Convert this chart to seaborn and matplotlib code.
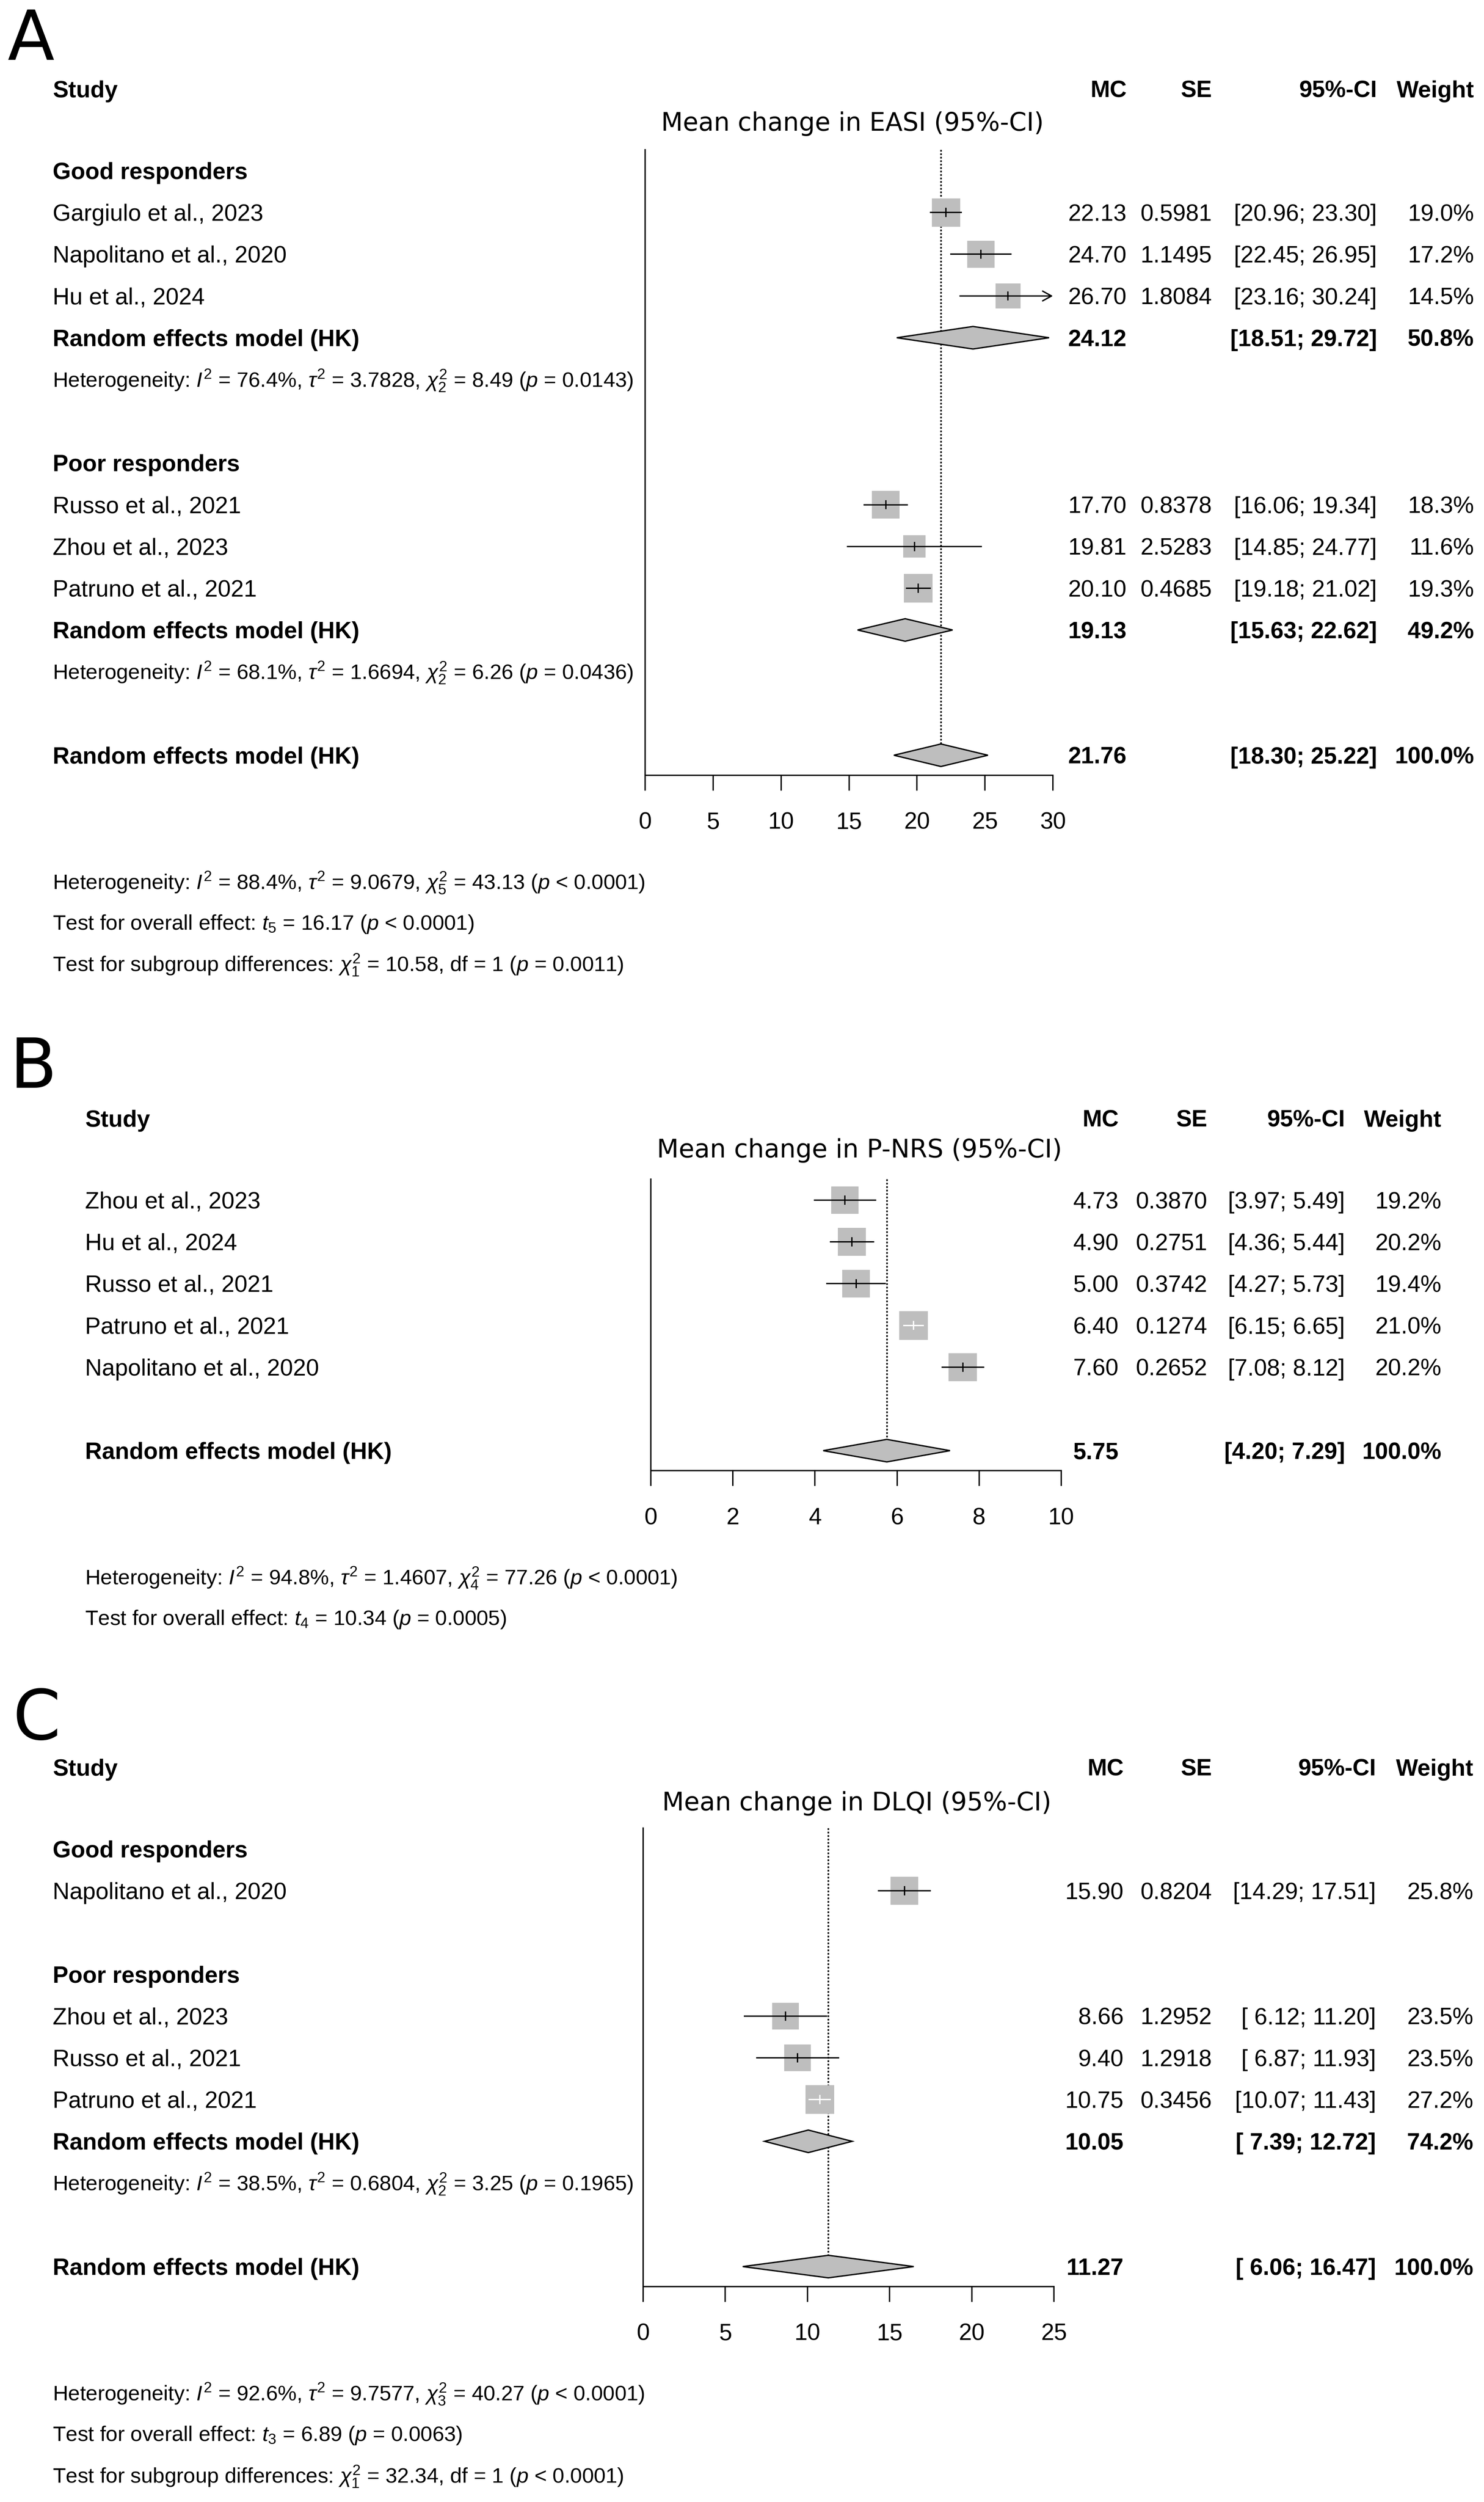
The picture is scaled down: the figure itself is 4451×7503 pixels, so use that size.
import numpy as np
import pandas as pd
import matplotlib
matplotlib.use("Agg")
import matplotlib.pyplot as plt
import seaborn as sns
from matplotlib.transforms import blended_transform_factory

# ======================= DATA =======================
# ---- Panel A : EASI ----
a_study = ["Gargiulo et al., 2023", "Napolitano et al., 2020", "Hu et al., 2024",
           "Russo et al., 2021", "Zhou et al., 2023", "Patruno et al., 2021"]
a_group = ["Good responders", "Good responders", "Good responders",
           "Poor responders", "Poor responders", "Poor responders"]
a_mc = [22.13, 24.70, 26.70, 17.70, 19.81, 20.10]
a_se = [0.5981, 1.1495, 1.8084, 0.8378, 2.5283, 0.4685]
a_lo = [20.96, 22.45, 23.16, 16.06, 14.85, 19.18]
a_hi = [23.30, 26.95, 30.24, 19.34, 24.77, 21.02]
a_w = [19.0, 17.2, 14.5, 18.3, 11.6, 19.3]
a_sub_group = ["Good responders", "Poor responders"]
a_sub_mc = [24.12, 19.13]
a_sub_lo = [18.51, 15.63]
a_sub_hi = [29.72, 22.62]
a_sub_w = [50.8, 49.2]
a_sub_het = [r"Heterogeneity: $I^2$ = 76.4%, $\tau^2$ = 3.7828, $\chi^2_2$ = 8.49 ($p$ = 0.0143)",
             r"Heterogeneity: $I^2$ = 68.1%, $\tau^2$ = 1.6694, $\chi^2_2$ = 6.26 ($p$ = 0.0436)"]
a_all_mc, a_all_lo, a_all_hi, a_all_w = 21.76, 18.30, 25.22, 100.0
a_ticks = [0, 5, 10, 15, 20, 25, 30]
a_title = "Mean change in EASI (95%-CI)"
a_notes = [r"Heterogeneity: $I^2$ = 88.4%, $\tau^2$ = 9.0679, $\chi^2_5$ = 43.13 ($p$ < 0.0001)",
           r"Test for overall effect: $t_5$ = 16.17 ($p$ < 0.0001)",
           r"Test for subgroup differences: $\chi^2_1$ = 10.58, df = 1 ($p$ = 0.0011)"]

# ---- Panel B : P-NRS ----
b_study = ["Zhou et al., 2023", "Hu et al., 2024", "Russo et al., 2021",
           "Patruno et al., 2021", "Napolitano et al., 2020"]
b_group = [None, None, None, None, None]
b_mc = [4.73, 4.90, 5.00, 6.40, 7.60]
b_se = [0.3870, 0.2751, 0.3742, 0.1274, 0.2652]
b_lo = [3.97, 4.36, 4.27, 6.15, 7.08]
b_hi = [5.49, 5.44, 5.73, 6.65, 8.12]
b_w = [19.2, 20.2, 19.4, 21.0, 20.2]
b_all_mc, b_all_lo, b_all_hi, b_all_w = 5.75, 4.20, 7.29, 100.0
b_ticks = [0, 2, 4, 6, 8, 10]
b_title = "Mean change in P-NRS (95%-CI)"
b_notes = [r"Heterogeneity: $I^2$ = 94.8%, $\tau^2$ = 1.4607, $\chi^2_4$ = 77.26 ($p$ < 0.0001)",
           r"Test for overall effect: $t_4$ = 10.34 ($p$ = 0.0005)"]

# ---- Panel C : DLQI ----
c_study = ["Napolitano et al., 2020", "Zhou et al., 2023", "Russo et al., 2021",
           "Patruno et al., 2021"]
c_group = ["Good responders", "Poor responders", "Poor responders", "Poor responders"]
c_mc = [15.90, 8.66, 9.40, 10.75]
c_se = [0.8204, 1.2952, 1.2918, 0.3456]
c_lo = [14.29, 6.12, 6.87, 10.07]
c_hi = [17.51, 11.20, 11.93, 11.43]
c_w = [25.8, 23.5, 23.5, 27.2]
c_sub_group = ["Poor responders"]
c_sub_mc = [10.05]
c_sub_lo = [7.39]
c_sub_hi = [12.72]
c_sub_w = [74.2]
c_sub_het = [r"Heterogeneity: $I^2$ = 38.5%, $\tau^2$ = 0.6804, $\chi^2_2$ = 3.25 ($p$ = 0.1965)"]
c_all_mc, c_all_lo, c_all_hi, c_all_w = 11.27, 6.06, 16.47, 100.0
c_ticks = [0, 5, 10, 15, 20, 25]
c_title = "Mean change in DLQI (95%-CI)"
c_notes = [r"Heterogeneity: $I^2$ = 92.6%, $\tau^2$ = 9.7577, $\chi^2_3$ = 40.27 ($p$ < 0.0001)",
           r"Test for overall effect: $t_3$ = 6.89 ($p$ = 0.0063)",
           r"Test for subgroup differences: $\chi^2_1$ = 32.34, df = 1 ($p$ < 0.0001)"]

col_headers = ["MC", "SE", "95%-CI", "Weight"]
summary_label = "Random effects model (HK)"

# ======================= STYLE / LAYOUT =======================
sns.set_theme(style="white")
plt.rcParams["font.family"] = ["Liberation Sans", "DejaVu Sans"]
plt.rcParams["mathtext.fontset"] = "custom"
plt.rcParams["mathtext.rm"] = "Liberation Sans"
plt.rcParams["mathtext.it"] = "Liberation Sans:italic"
plt.rcParams["mathtext.bf"] = "Liberation Sans:bold"

W, H = 4451, 7503
fig = plt.figure(figsize=(W / 100, H / 100), dpi=100)
fig.patch.set_facecolor("white")

SP = 125.2          # px per row
FS = 50.5           # main font size
FS_HET = 45.7
LW = 2.9
BOX = "#BEBEBE"
BOX_MAX_PX = 86
DIAM_H = 0.27
TITLE_FONT = ["DejaVu Sans"]

layouts = {
    "A": dict(row0=512, xl=1935, xr=3158, study_x=158, cols=[3379, 3635, 4130, 4421],
              title_cx=2557, title_row=-1.16, title_w=1151, letter=(22, 180)),
    "B": dict(row0=3599, xl=1952, xr=3183, study_x=255, cols=[3355, 3621, 4034, 4323],
              title_cx=2578, title_row=-1.22, title_w=1217, letter=(30, 3262)),
    "C": dict(row0=5545, xl=1929, xr=3161, study_x=158, cols=[3370, 3635, 4127, 4419],
              title_cx=2570, title_row=-1.13, title_w=1169, letter=(38, 5216)),
}


def pad_fmt(vals, fmt):
    s = [format(v, fmt) for v in vals]
    n = max(len(x) for x in s)
    return [x.rjust(n) for x in s]


def build_rows(study, group, mc, se, lo, hi, w, sub_group, sub_mc, sub_lo, sub_hi,
               sub_w, sub_het, all_mc, all_lo, all_hi, all_w):
    rows = []
    lo_all = pad_fmt(list(lo) + list(sub_lo) + [all_lo], ".2f")
    hi_all = pad_fmt(list(hi) + list(sub_hi) + [all_hi], ".2f")
    n = len(study)
    groups = []
    for g in group:
        if g not in groups:
            groups.append(g)
    for gi, g in enumerate(groups):
        if gi > 0:
            rows.append(dict(kind="blank"))
        if g is not None:
            rows.append(dict(kind="group", label=g))
        for i in range(n):
            if group[i] == g:
                rows.append(dict(kind="study", label=study[i], mc=mc[i], se=se[i],
                                 lo=lo[i], hi=hi[i], w=w[i],
                                 ci="[" + lo_all[i] + "; " + hi_all[i] + "]"))
        if g in sub_group:
            k = sub_group.index(g)
            rows.append(dict(kind="summary", label=summary_label, mc=sub_mc[k],
                             lo=sub_lo[k], hi=sub_hi[k], w=sub_w[k],
                             ci="[" + lo_all[n + k] + "; " + hi_all[n + k] + "]"))
            rows.append(dict(kind="het", label=sub_het[k]))
    rows.append(dict(kind="blank"))
    m = len(lo_all) - 1
    rows.append(dict(kind="overall", label=summary_label, mc=all_mc, lo=all_lo,
                     hi=all_hi, w=all_w, ci="[" + lo_all[m] + "; " + hi_all[m] + "]"))
    for i, r in enumerate(rows):
        r["row"] = i
    return rows


def draw_panel(letter, rows, ticks, title, notes):
    L = layouts[letter]
    last = len(rows) - 1
    top_row, bot_row = -0.5, last + 0.48
    y_top = L["row0"] + top_row * SP
    y_bot = L["row0"] + bot_row * SP
    ax = fig.add_axes([L["xl"] / W, 1 - y_bot / H, (L["xr"] - L["xl"]) / W, (y_bot - y_top) / H])
    xmin, xmax = ticks[0], ticks[-1]
    ppu = (L["xr"] - L["xl"]) / (xmax - xmin)
    tr = blended_transform_factory(fig.transFigure, ax.transData)

    def put(xpx, row, s, size=FS, weight="normal", ha="left", off=0.2, **kw):
        return ax.text(xpx / W, row + off, s, transform=tr, fontsize=size, fontweight=weight,
                       ha=ha, va="baseline", color="black", **kw)

    # study boxes via seaborn
    st = pd.DataFrame([r for r in rows if r["kind"] == "study"])
    wmax = st["w"].max()
    s_max = (BOX_MAX_PX * 0.72) ** 2
    sns.scatterplot(data=st, x="mc", y="row", size="w", sizes=(0, s_max), size_norm=(0, wmax),
                    marker="s", color=BOX, linewidth=0, legend=False, ax=ax, zorder=2)
    for _, r in st.iterrows():
        side_px = BOX_MAX_PX * np.sqrt(r["w"] / wmax)
        inside = (r["hi"] - r["lo"]) * ppu < 0.8 * side_px
        col = "white" if inside else "black"
        if r["hi"] > xmax:
            ax.annotate("", xy=(xmax, r["row"]), xytext=(max(r["lo"], xmin), r["row"]),
                        arrowprops=dict(arrowstyle="->,head_length=0.4,head_width=0.22",
                                        lw=LW, color=col, shrinkA=0, shrinkB=0,
                                        mutation_scale=48), zorder=3)
        else:
            ax.hlines(r["row"], max(r["lo"], xmin), min(r["hi"], xmax), color=col, lw=LW, zorder=3)
        ax.vlines(r["mc"], r["row"] - 0.11, r["row"] + 0.11, color=col, lw=LW, zorder=3)

    # diamonds
    for r in rows:
        if r["kind"] in ("summary", "overall"):
            ax.fill([r["lo"], r["mc"], r["hi"], r["mc"]],
                    [r["row"], r["row"] - DIAM_H, r["row"], r["row"] + DIAM_H],
                    facecolor=BOX, edgecolor="black", lw=LW, zorder=3)
    ov = rows[-1]
    ax.vlines(ov["mc"], top_row, ov["row"] - DIAM_H, color="black", lw=3.4,
              linestyles=(0, (1.1, 1.1)), zorder=1)

    ax.set_xlim(xmin, xmax)
    ax.set_ylim(bot_row, top_row)
    ax.set_xlabel("")
    ax.set_ylabel("")
    ax.set_xticks(ticks)
    ax.set_xticklabels([str(t) for t in ticks])
    ax.set_yticks([])
    for sp in ("top", "right"):
        ax.spines[sp].set_visible(False)
    for sp in ("left", "bottom"):
        ax.spines[sp].set_linewidth(LW)
        ax.spines[sp].set_color("black")
    ax.tick_params(axis="x", bottom=True, length=33, width=LW, pad=46, labelsize=FS,
                   direction="out", colors="black")
    ax.patch.set_alpha(0)

    # headers
    put(L["study_x"], -1.96, "Study", weight="bold")
    for xr, h in zip(L["cols"], col_headers):
        put(xr, -1.96, h, weight="bold", ha="right")
    t = put(L["title_cx"], L["title_row"], title, size=50, ha="center", family=TITLE_FONT)
    rend = fig.canvas.get_renderer()
    bb = t.get_window_extent(renderer=rend)
    t.set_fontsize(50 * L["title_w"] / bb.width)

    # row texts
    for r in rows:
        k = r["kind"]
        if k == "group":
            put(L["study_x"], r["row"], r["label"], weight="bold")
        elif k == "het":
            put(L["study_x"], r["row"], r["label"], size=FS_HET, off=0.175)
        elif k == "study":
            put(L["study_x"], r["row"], r["label"])
            vals = [f"{r['mc']:.2f}", f"{r['se']:.4f}", r["ci"], f"{r['w']:.1f}%"]
            for xr, v in zip(L["cols"], vals):
                put(xr, r["row"], v, ha="right")
        elif k in ("summary", "overall"):
            put(L["study_x"], r["row"], r["label"], weight="bold")
            vals = [f"{r['mc']:.2f}", "", r["ci"], f"{r['w']:.1f}%"]
            for xr, v in zip(L["cols"], vals):
                if v:
                    put(xr, r["row"], v, weight="bold", ha="right")

    for j, note in enumerate(notes):
        put(L["study_x"], last + [3.03, 4.0, 5.0][j], note, size=FS_HET, off=0.175)

    lx, ly = L["letter"]
    fig.text(lx / W, 1 - ly / H, letter, fontsize=148, family=TITLE_FONT, ha="left",
             va="baseline", color="black")
    return ax


rows_a = build_rows(a_study, a_group, a_mc, a_se, a_lo, a_hi, a_w, a_sub_group, a_sub_mc,
                    a_sub_lo, a_sub_hi, a_sub_w, a_sub_het, a_all_mc, a_all_lo, a_all_hi, a_all_w)
rows_b = build_rows(b_study, b_group, b_mc, b_se, b_lo, b_hi, b_w, [], [], [], [], [], [],
                    b_all_mc, b_all_lo, b_all_hi, b_all_w)
rows_c = build_rows(c_study, c_group, c_mc, c_se, c_lo, c_hi, c_w, c_sub_group, c_sub_mc,
                    c_sub_lo, c_sub_hi, c_sub_w, c_sub_het, c_all_mc, c_all_lo, c_all_hi, c_all_w)

draw_panel("A", rows_a, a_ticks, a_title, a_notes)
draw_panel("B", rows_b, b_ticks, b_title, b_notes)
draw_panel("C", rows_c, c_ticks, c_title, c_notes)

fig.savefig("out.png", dpi=100, facecolor="white")
